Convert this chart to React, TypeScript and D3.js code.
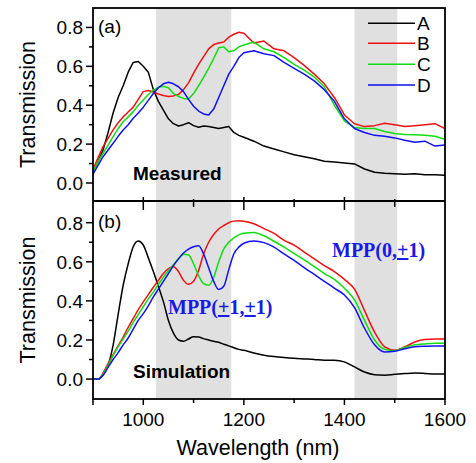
import React, { useEffect, useRef } from 'react';
import * as d3 from 'd3';

// shared wavelength grid (nm)
const wavelengths = [
  900, 910, 920, 930, 940, 950, 960, 970, 980, 990,
  1000, 1010, 1020, 1030, 1040, 1050, 1060, 1070, 1080, 1090,
  1100, 1110, 1120, 1130, 1140, 1150, 1160, 1170, 1180, 1190,
  1200, 1220, 1240, 1260, 1280, 1300, 1320, 1340, 1360, 1380,
  1400, 1420, 1440, 1460, 1480, 1500, 1520, 1540, 1560, 1580, 1600,
];

// (a) measured
const measuredA = [
  0.06, 0.11, 0.17, 0.26, 0.36, 0.44, 0.50, 0.57, 0.62, 0.625,
  0.60, 0.57, 0.48, 0.42, 0.375, 0.33, 0.305, 0.293, 0.30, 0.31,
  0.295, 0.287, 0.293, 0.29, 0.285, 0.28, 0.285, 0.29, 0.26, 0.245,
  0.235, 0.215, 0.19, 0.175, 0.16, 0.145, 0.135, 0.125, 0.112, 0.108,
  0.103, 0.098, 0.072, 0.055, 0.05, 0.048, 0.045, 0.047, 0.042, 0.043, 0.04,
];
const measuredB = [
  0.07, 0.13, 0.187, 0.23, 0.273, 0.31, 0.34, 0.365, 0.39, 0.43,
  0.47, 0.476, 0.468, 0.458, 0.45, 0.445, 0.448, 0.455, 0.48, 0.515,
  0.565, 0.61, 0.65, 0.69, 0.712, 0.72, 0.725, 0.75, 0.765, 0.775,
  0.77, 0.72, 0.73, 0.69, 0.68, 0.645, 0.605, 0.56, 0.51, 0.44,
  0.35, 0.305, 0.29, 0.295, 0.307, 0.30, 0.29, 0.295, 0.30, 0.305, 0.28,
];
const measuredC = [
  0.06, 0.11, 0.153, 0.195, 0.238, 0.28, 0.315, 0.34, 0.367, 0.40,
  0.427, 0.455, 0.478, 0.492, 0.497, 0.49, 0.46, 0.445, 0.435, 0.432,
  0.46, 0.50, 0.545, 0.59, 0.64, 0.695, 0.70, 0.675, 0.68, 0.70,
  0.71, 0.725, 0.69, 0.675, 0.645, 0.61, 0.58, 0.545, 0.495, 0.40,
  0.32, 0.285, 0.28, 0.28, 0.265, 0.255, 0.25, 0.248, 0.245, 0.24, 0.225,
];
const measuredD = [
  0.045, 0.09, 0.135, 0.17, 0.204, 0.24, 0.273, 0.30, 0.333, 0.36,
  0.39, 0.425, 0.46, 0.49, 0.51, 0.518, 0.51, 0.495, 0.47, 0.43,
  0.395, 0.37, 0.355, 0.35, 0.38, 0.44, 0.50, 0.56, 0.60, 0.645,
  0.67, 0.68, 0.665, 0.655, 0.62, 0.59, 0.56, 0.525, 0.48, 0.42,
  0.33, 0.28, 0.26, 0.245, 0.24, 0.232, 0.22, 0.21, 0.215, 0.19, 0.195,
];

// (b) simulation
const simulatedA = [
  0.003, 0.0, 0.02, 0.07, 0.174, 0.33, 0.48, 0.59, 0.677, 0.706,
  0.686, 0.62, 0.55, 0.475, 0.396, 0.30, 0.235, 0.20, 0.194, 0.205,
  0.217, 0.215, 0.207, 0.20, 0.193, 0.188, 0.178, 0.17, 0.16, 0.152,
  0.147, 0.133, 0.122, 0.115, 0.11, 0.106, 0.103, 0.10, 0.096, 0.096,
  0.088, 0.062, 0.036, 0.022, 0.02, 0.024, 0.028, 0.031, 0.029, 0.026, 0.026,
];
const simulatedB = [
  0.0, 0.0, 0.03, 0.08, 0.125, 0.17, 0.215, 0.265, 0.31, 0.355,
  0.395, 0.432, 0.47, 0.505, 0.54, 0.565, 0.575, 0.55, 0.505, 0.485,
  0.50, 0.555, 0.64, 0.70, 0.74, 0.768, 0.785, 0.80, 0.808, 0.81,
  0.808, 0.795, 0.77, 0.745, 0.71, 0.685, 0.65, 0.615, 0.58, 0.55,
  0.51, 0.46, 0.35, 0.24, 0.165, 0.148, 0.165, 0.19, 0.203, 0.205, 0.205,
];
const simulatedC = [
  0.0, 0.0, 0.025, 0.07, 0.12, 0.165, 0.205, 0.245, 0.29, 0.33,
  0.37, 0.41, 0.445, 0.485, 0.52, 0.555, 0.585, 0.615, 0.638, 0.635,
  0.59, 0.53, 0.488, 0.48, 0.52, 0.60, 0.665, 0.70, 0.722, 0.738,
  0.746, 0.75, 0.733, 0.705, 0.675, 0.642, 0.61, 0.575, 0.54, 0.51,
  0.465, 0.405, 0.30, 0.20, 0.152, 0.145, 0.162, 0.175, 0.18, 0.183, 0.183,
];
const simulatedD = [
  0.0, 0.0, 0.02, 0.06, 0.10, 0.135, 0.175, 0.21, 0.255, 0.30,
  0.335, 0.375, 0.42, 0.46, 0.50, 0.54, 0.58, 0.615, 0.645, 0.665,
  0.677, 0.682, 0.64, 0.57, 0.50, 0.458, 0.475, 0.56, 0.64, 0.675,
  0.695, 0.706, 0.698, 0.675, 0.64, 0.607, 0.57, 0.535, 0.50, 0.465,
  0.43, 0.365, 0.26, 0.175, 0.138, 0.142, 0.155, 0.165, 0.168, 0.169, 0.169,
];

const seriesNames = ['A', 'B', 'C', 'D'];
const seriesColors = ['#000000', '#f01010', '#10dd10', '#1010f0'];
const xTicks = [1000, 1200, 1400, 1600];
const xMinorTicks = [1100, 1300, 1500];
const yTicks = [0, 0.2, 0.4, 0.6, 0.8];
const yMinorTicks = [0.1, 0.3, 0.5, 0.7];
const bands = [[1025, 1175], [1420, 1505]];

const SANS = 'Liberation Sans, Arial, sans-serif';
const SERIF = 'Liberation Serif, Times New Roman, serif';

const App = () => {
  const ref = useRef(null);

  useEffect(() => {
    const svg = d3.select(ref.current);
    svg.selectAll('*').remove();

    const left = 93, right = 445, top = 8, bottom = 399;
    const x = d3.scaleLinear().domain([900, 1600]).range([left, right]);

    const panels = [
      { top: 8, bottom: 201, domain: [-0.0926, 0.9], series: [measuredA, measuredB, measuredC, measuredD],
        curve: d3.curveLinear, tag: '(a)', tagY: 33, note: 'Measured', noteY: 180 },
      { top: 201, bottom: 399, domain: [-0.102, 0.911], series: [simulatedA, simulatedB, simulatedC, simulatedD],
        curve: d3.curveMonotoneX, tag: '(b)', tagY: 228, note: 'Simulation', noteY: 378 },
    ];

    // grey bands behind everything
    svg.append('g').selectAll('rect')
      .data(bands)
      .join('rect')
        .attr('x', d => x(d[0]))
        .attr('y', top)
        .attr('width', d => x(d[1]) - x(d[0]))
        .attr('height', bottom - top)
        .attr('fill', '#e0e0e0');

    panels.forEach((p, pi) => {
      const y = d3.scaleLinear().domain(p.domain).range([p.bottom, p.top]);
      const clipId = `clip${pi}`;
      svg.append('clipPath').attr('id', clipId)
        .append('rect')
          .attr('x', left).attr('y', p.top)
          .attr('width', right - left).attr('height', p.bottom - p.top);

      const line = d3.line()
        .x((d, i) => x(wavelengths[i]))
        .y(d => y(d))
        .curve(p.curve);

      svg.append('g').attr('clip-path', `url(#${clipId})`)
        .selectAll('path')
        .data(p.series)
        .join('path')
          .attr('d', d => line(d))
          .attr('fill', 'none')
          .attr('stroke', (d, i) => seriesColors[i])
          .attr('stroke-width', 1.5)
          .attr('stroke-linejoin', 'round');

      // y ticks
      const yAxis = svg.append('g');
      yAxis.selectAll('line.major')
        .data(yTicks)
        .join('line')
          .attr('class', 'major')
          .attr('x1', left - 7).attr('x2', left)
          .attr('y1', d => y(d)).attr('y2', d => y(d))
          .attr('stroke', '#000').attr('stroke-width', 1.5);
      yAxis.selectAll('line.minor')
        .data(yMinorTicks)
        .join('line')
          .attr('class', 'minor')
          .attr('x1', left - 4).attr('x2', left)
          .attr('y1', d => y(d)).attr('y2', d => y(d))
          .attr('stroke', '#000').attr('stroke-width', 1.5);
      yAxis.selectAll('text')
        .data(yTicks)
        .join('text')
          .attr('x', left - 10)
          .attr('y', d => y(d))
          .attr('dy', '0.36em')
          .attr('text-anchor', 'end')
          .attr('font-family', SANS)
          .attr('font-size', 19)
          .text(d => d.toFixed(1));

      svg.append('text')
        .attr('transform', `translate(35,${(p.top + p.bottom) / 2}) rotate(-90)`)
        .attr('text-anchor', 'middle')
        .attr('font-family', SANS)
        .attr('font-size', 21.5)
        .text('Transmission');

      svg.append('text')
        .attr('x', 98).attr('y', p.tagY)
        .attr('font-family', SANS).attr('font-size', 19)
        .text(p.tag);

      svg.append('text')
        .attr('x', 133).attr('y', p.noteY)
        .attr('font-family', SANS).attr('font-size', 19).attr('font-weight', 'bold')
        .text(p.note);
    });

    // x ticks: between panels and at the bottom
    const xt = svg.append('g');
    xt.selectAll('line.mid')
      .data(xTicks.slice(0, 3))
      .join('line')
        .attr('class', 'mid')
        .attr('x1', d => x(d)).attr('x2', d => x(d))
        .attr('y1', 197).attr('y2', 210)
        .attr('stroke', '#000').attr('stroke-width', 1.5);
    xt.selectAll('line.midminor')
      .data(xMinorTicks)
      .join('line')
        .attr('class', 'midminor')
        .attr('x1', d => x(d)).attr('x2', d => x(d))
        .attr('y1', 199).attr('y2', 207)
        .attr('stroke', '#000').attr('stroke-width', 1.5);
    xt.selectAll('line.bot')
      .data([900, ...xTicks])
      .join('line')
        .attr('class', 'bot')
        .attr('x1', d => x(d)).attr('x2', d => x(d))
        .attr('y1', bottom).attr('y2', bottom + 6)
        .attr('stroke', '#000').attr('stroke-width', 1.5);
    xt.selectAll('line.botminor')
      .data(xMinorTicks)
      .join('line')
        .attr('class', 'botminor')
        .attr('x1', d => x(d)).attr('x2', d => x(d))
        .attr('y1', bottom).attr('y2', bottom + 4)
        .attr('stroke', '#000').attr('stroke-width', 1.5);
    xt.selectAll('text')
      .data(xTicks)
      .join('text')
        .attr('x', d => x(d))
        .attr('y', 426)
        .attr('text-anchor', 'middle')
        .attr('font-family', SANS)
        .attr('font-size', 19)
        .text(d => d);

    svg.append('text')
      .attr('x', 258).attr('y', 455)
      .attr('text-anchor', 'middle')
      .attr('font-family', SANS)
      .attr('font-size', 21.5)
      .text('Wavelength (nm)');

    // frames
    svg.append('rect')
      .attr('x', left).attr('y', top)
      .attr('width', right - left).attr('height', bottom - top)
      .attr('fill', 'none').attr('stroke', '#000').attr('stroke-width', 1.8);
    svg.append('line')
      .attr('x1', left).attr('x2', right)
      .attr('y1', 201).attr('y2', 201)
      .attr('stroke', '#000').attr('stroke-width', 1.8);

    // legend
    const legend = svg.append('g');
    const legendY = [23.3, 43.3, 64.3, 85];
    legend.selectAll('line')
      .data(seriesNames)
      .join('line')
        .attr('x1', 368).attr('x2', 415)
        .attr('y1', (d, i) => legendY[i]).attr('y2', (d, i) => legendY[i])
        .attr('stroke', (d, i) => seriesColors[i])
        .attr('stroke-width', 1.5);
    legend.selectAll('text')
      .data(seriesNames)
      .join('text')
        .attr('x', 417)
        .attr('y', (d, i) => legendY[i])
        .attr('dy', '0.36em')
        .attr('font-family', SANS)
        .attr('font-size', 19)
        .text(d => d);

    // mode annotations
    const mpp = [
      { x: 332, y: 257, parts: ['MPP(0,', '+', '1)'] },
      { x: 168, y: 314, parts: ['MPP(', '+', '1,', '+', '1)'] },
    ];
    mpp.forEach(m => {
      const t = svg.append('text')
        .attr('x', m.x).attr('y', m.y)
        .attr('font-family', SERIF)
        .attr('font-size', 20)
        .attr('font-weight', 'bold')
        .attr('fill', '#1a1ae8');
      m.parts.forEach(s => {
        const ts = t.append('tspan').text(s);
        if (s === '+') ts.attr('text-decoration', 'underline');
      });
    });
  }, []);

  return (
    <svg ref={ref} width={476} height={463} style={{ position: 'absolute', left: 0, top: 0, background: '#fff' }}></svg>
  );
};

export default App;
